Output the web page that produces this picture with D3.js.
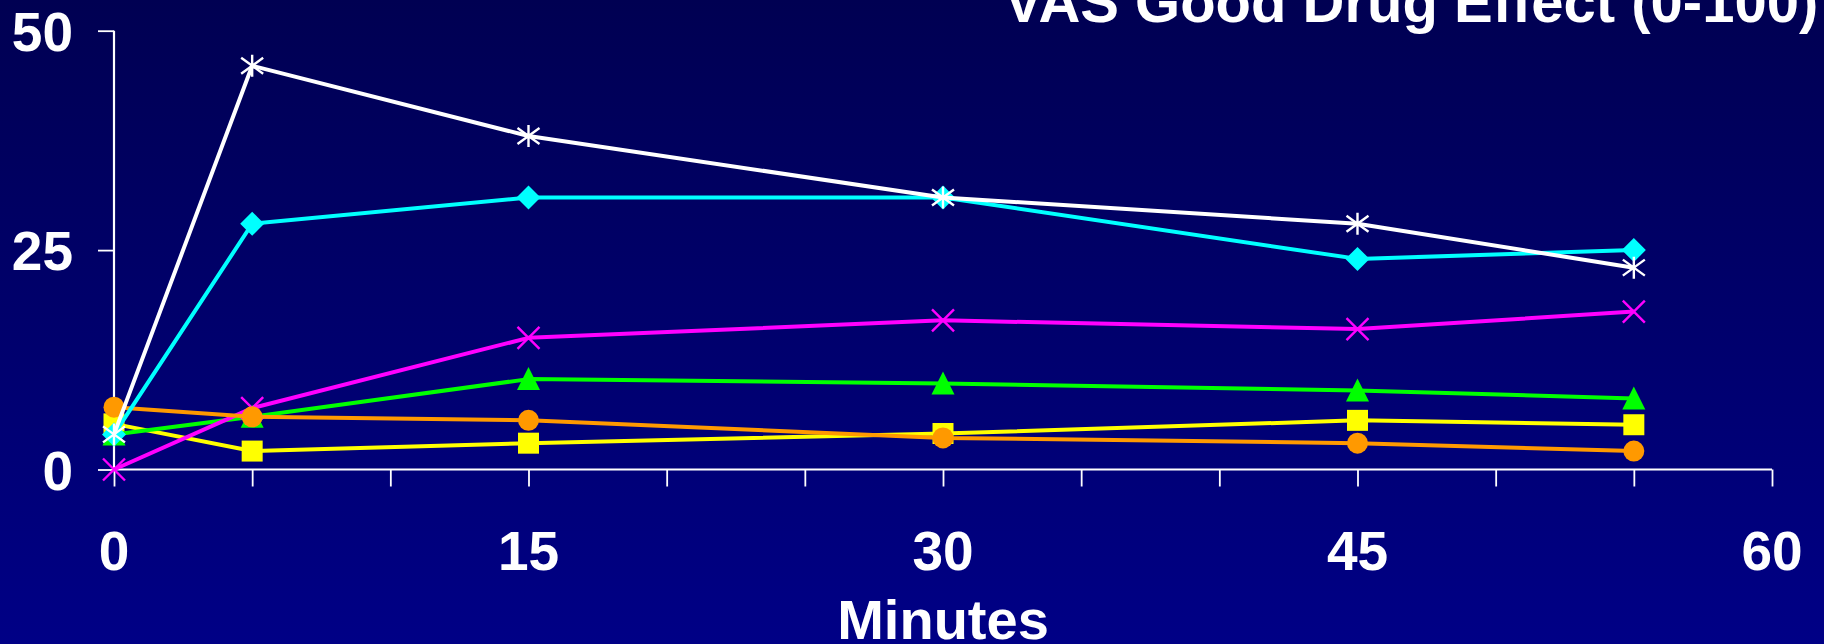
<!DOCTYPE html>
<html>
<head>
<meta charset="utf-8">
<script src="https://cdn.jsdelivr.net/npm/d3@7"></script>
<style>
  html, body { margin: 0; padding: 0; overflow: hidden; }
  body { width: 1824px; height: 644px; }
  text { font-family: "Liberation Sans", Arial, sans-serif; font-weight: bold; fill: #fff; }
</style>
</head>
<body>
<svg id="chart" width="1824" height="644"></svg>
<script>
// minutes after dose
var minutes = [0, 5, 15, 30, 45, 55];

// VAS values, one array per series
var whiteStar   = [4, 46, 38, 31, 28, 23];
var cyanDiamond = [4, 28, 31, 31, 24, 25];
var magentaX    = [0, 7, 15, 17, 16, 18];
var greenTri    = [4, 6, 10.3, 9.8, 9, 8.1];
var yellowSq    = [5.2, 2.1, 3, 4.1, 5.6, 5.1];
var orangeDot   = [7.1, 6, 5.6, 3.6, 3, 2.1];

var xTicks = [0, 5, 10, 15, 20, 25, 30, 35, 40, 45, 50, 55, 60];
var xLabels = [0, 15, 30, 45, 60];
var yTicks = [0, 25, 50];

var title = "VAS Good Drug Effect (0-100)";
var xTitle = "Minutes";

// draw order, bottom first
var series = [
	{name: 'yellow',  values: yellowSq,    color: '#ffff00', mark: 'square'},
	{name: 'green',   values: greenTri,    color: '#00ff00', mark: 'triangle'},
	{name: 'magenta', values: magentaX,    color: '#ff00ff', mark: 'cross'},
	{name: 'orange',  values: orangeDot,   color: '#ff9900', mark: 'circle'},
	{name: 'cyan',    values: cyanDiamond, color: '#00ffff', mark: 'diamond'},
	{name: 'white',   values: whiteStar,   color: '#ffffff', mark: 'star'}
];

var svg = d3.select('#chart');

// background gradient, darker at the top
var defs = svg.append('defs');
var grad = defs.append('linearGradient').attr('id', 'bg')
	.attr('x1', 0).attr('y1', 0).attr('x2', 0).attr('y2', 1);
grad.append('stop').attr('offset', '0%').attr('stop-color', '#000052');
grad.append('stop').attr('offset', '100%').attr('stop-color', '#000086');
svg.append('rect').attr('width', 1824).attr('height', 644).attr('fill', 'url(#bg)');

var x = d3.scaleLinear().domain([0, 60]).range([114, 1772]);
var y = d3.scaleLinear().domain([0, 50]).range([469.5, 30.7]);

// axes
var xAxis = d3.axisBottom(x).tickValues(xTicks).tickSize(17).tickFormat('');
var yAxis = d3.axisLeft(y).tickValues(yTicks).tickSize(16).tickFormat('');

var gx = svg.append('g').attr('transform', 'translate(0,' + y(0) + ')').call(xAxis);
var gy = svg.append('g').attr('transform', 'translate(' + x(0) + ',0)').call(yAxis);
[gx, gy].forEach(function(g){
	g.select('.domain').attr('stroke', '#fff').attr('stroke-width', 2.2);
	g.selectAll('.tick line').attr('stroke', '#fff').attr('stroke-width', 1.8);
});
gx.select('.domain').attr('d', 'M' + x(0) + ',0H' + x(60));
gy.select('.domain').attr('d', 'M0,' + y(0) + 'V' + y(50));

// tick labels
svg.selectAll('.xlab').data(xLabels).enter().append('text')
	.attr('class', 'xlab')
	.attr('x', function(d){ return x(d); })
	.attr('y', 570)
	.attr('text-anchor', 'middle')
	.style('font-size', '55px')
	.text(function(d){ return d; });

svg.selectAll('.ylab').data(yTicks).enter().append('text')
	.attr('class', 'ylab')
	.attr('x', 73)
	.attr('y', function(d){ return y(d) + 20; })
	.attr('text-anchor', 'end')
	.style('font-size', '55px')
	.text(function(d){ return d; });

svg.append('text')
	.attr('x', x(30)).attr('y', 639)
	.attr('text-anchor', 'middle')
	.style('font-size', '56px')
	.text(xTitle);

svg.append('text')
	.attr('x', 1004).attr('y', 22)
	.style('font-size', '58px')
	.text(title);

// lines + markers
var line = d3.line()
	.x(function(d, i){ return x(minutes[i]); })
	.y(function(d){ return y(d); });

function markPath(kind){
	switch(kind){
		case 'square':   return 'M-10.5,-10.5H10.5V10.5H-10.5Z';
		case 'triangle': return 'M0,-12L11.5,11H-11.5Z';
		case 'diamond':  return 'M0,-12L12,0L0,12L-12,0Z';
		case 'cross':    return 'M-11,-11L11,11M-11,11L11,-11';
		case 'star':     return 'M0,-11V11M-11,-8L11,8M-11,8L11,-8';
		default: return '';
	}
}

series.forEach(function(s){
	var g = svg.append('g').attr('class', 'series ' + s.name);
	g.append('path')
		.datum(s.values)
		.attr('d', line)
		.attr('fill', 'none')
		.attr('stroke', s.color)
		.attr('stroke-width', 4)
		.attr('stroke-linejoin', 'round');

	var pts = g.selectAll('.pt').data(s.values).enter();
	if (s.mark == 'circle'){
		pts.append('circle')
			.attr('cx', function(d, i){ return x(minutes[i]); })
			.attr('cy', function(d){ return y(d); })
			.attr('r', 10.5)
			.attr('fill', s.color);
	} else {
		var open = (s.mark == 'cross' || s.mark == 'star');
		pts.append('path')
			.attr('transform', function(d, i){ return 'translate(' + x(minutes[i]) + ',' + y(d) + ')'; })
			.attr('d', markPath(s.mark))
			.attr('fill', open ? 'none' : s.color)
			.attr('stroke', open ? s.color : 'none')
			.attr('stroke-width', open ? 2.4 : 0);
	}
});
</script>
</body>
</html>
